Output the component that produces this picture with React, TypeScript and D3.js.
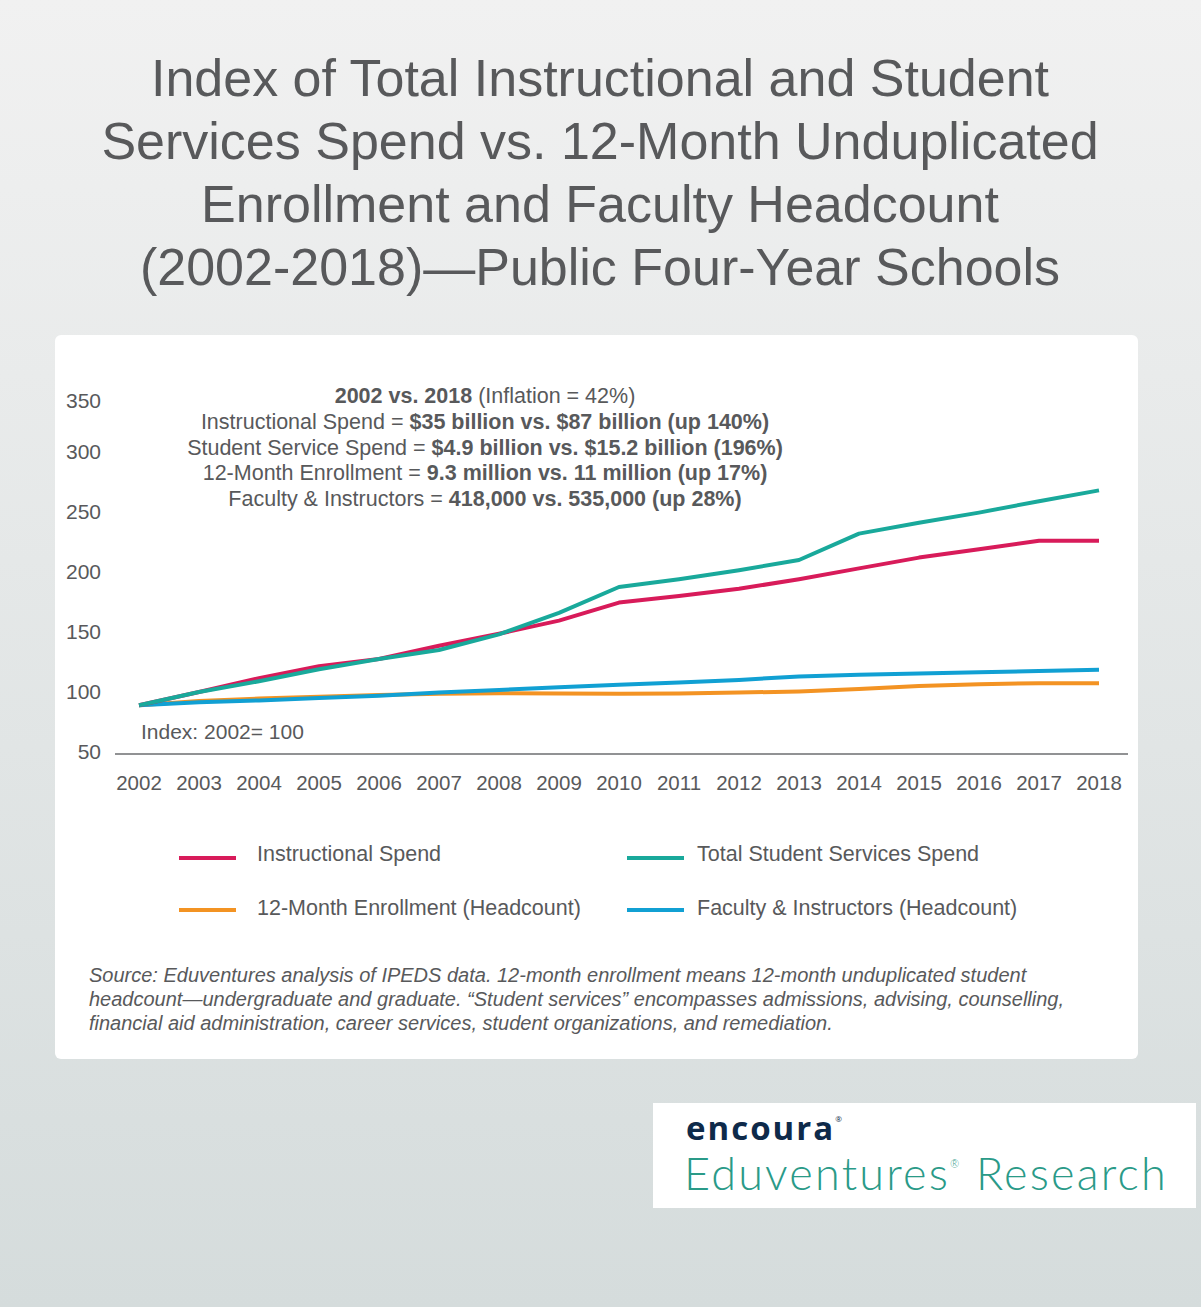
import { useEffect, useRef } from 'react';
import * as d3 from 'd3';

const W = 1201;
const H = 1307;

const YEARS = [2002, 2003, 2004, 2005, 2006, 2007, 2008, 2009, 2010, 2011, 2012, 2013, 2014, 2015, 2016, 2017, 2018];

// Index values (as drawn, 2002 sits just under 100).
const INSTRUCTIONAL = [89, 100, 111.5, 121.5, 127.5, 138.5, 148.5, 159.5, 174.5, 180, 186, 194, 203, 212, 219, 226, 226];
const STUDENT_SERVICES = [89, 100, 109, 119, 127.5, 135, 148, 166, 187.5, 194, 201.5, 210, 232, 241, 249.5, 259, 268];
const ENROLLMENT = [89, 92.5, 94.5, 96, 97.5, 98.5, 99, 98.8, 98.5, 98.8, 99.5, 100.5, 102.5, 105, 106.5, 107.3, 107.3];
const FACULTY = [89, 91.5, 93, 95, 96.8, 99.5, 101.7, 104, 106, 108, 110, 113, 114.4, 115.5, 116.4, 117.5, 118.6];

const Y_TICKS = [50, 100, 150, 200, 250, 300, 350];

const TITLE_LINES = [
  'Index of Total Instructional and Student',
  'Services Spend vs. 12-Month Unduplicated',
  'Enrollment and Faculty Headcount',
  '(2002-2018)\u2014Public Four-Year Schools',
];

// [normal part, bold part, trailing normal part]
const NOTE_LINES: [string, string, string][] = [
  ['', '2002 vs. 2018', ' (Inflation = 42%)'],
  ['Instructional Spend = ', '$35 billion vs. $87 billion (up 140%)', ''],
  ['Student Service Spend = ', '$4.9 billion vs. $15.2 billion (196%)', ''],
  ['12-Month Enrollment = ', '9.3 million vs. 11 million (up 17%)', ''],
  ['Faculty & Instructors = ', '418,000 vs. 535,000 (up 28%)', ''],
];

const SOURCE_LINES = [
  'Source: Eduventures analysis of IPEDS data. 12-month enrollment means 12-month unduplicated student',
  'headcount\u2014undergraduate and graduate. \u201cStudent services\u201d encompasses admissions, advising, counselling,',
  'financial aid administration, career services, student organizations, and remediation.',
];

const SERIES = [
  { name: 'Instructional Spend', values: INSTRUCTIONAL, color: '#d81b5a' },
  { name: 'Total Student Services Spend', values: STUDENT_SERVICES, color: '#19a99b' },
  { name: '12-Month Enrollment (Headcount)', values: ENROLLMENT, color: '#f39323' },
  { name: 'Faculty & Instructors (Headcount)', values: FACULTY, color: '#11a0d3' },
];

const FONT = '"Liberation Sans", Arial, sans-serif';
const TEXT = '#58595b';

export default function App() {
  const svgRef = useRef<SVGSVGElement>(null);

  useEffect(() => {
    if (!svgRef.current) return;
    const svg = d3.select(svgRef.current);
    svg.selectAll('*').remove();

    // ── Background ────────────────────────────────────────────────────
    const defs = svg.append('defs');
    const grad = defs.append('linearGradient')
      .attr('id', 'bg').attr('x1', 0).attr('y1', 0).attr('x2', 0).attr('y2', 1);
    grad.append('stop').attr('offset', '0%').attr('stop-color', '#f1f1f1');
    grad.append('stop').attr('offset', '100%').attr('stop-color', '#d5dcdc');
    svg.append('rect').attr('width', W).attr('height', H).attr('fill', 'url(#bg)');

    // ── Title ─────────────────────────────────────────────────────────
    svg.append('g')
      .selectAll('text')
      .data(TITLE_LINES)
      .join('text')
      .attr('x', 600)
      .attr('y', (_, i) => 96 + i * 63)
      .attr('text-anchor', 'middle')
      .attr('font-family', FONT)
      .attr('font-size', '52px')
      .attr('fill', TEXT)
      .text((d) => d);

    // ── Card ──────────────────────────────────────────────────────────
    svg.append('rect')
      .attr('x', 55).attr('y', 335).attr('width', 1083).attr('height', 724)
      .attr('rx', 6).attr('fill', '#ffffff');

    // ── Scales ────────────────────────────────────────────────────────
    const x = d3.scaleLinear().domain([2002, 2018]).range([139, 1099]);
    const y = d3.scaleLinear().domain([50, 350]).range([752, 392]);

    // ── Axes ──────────────────────────────────────────────────────────
    svg.append('line')
      .attr('x1', 115).attr('x2', 1128)
      .attr('y1', y(50) + 2).attr('y2', y(50) + 2)
      .attr('stroke', '#6d6e71').attr('stroke-width', 1.5);

    svg.append('g')
      .selectAll('text')
      .data(Y_TICKS)
      .join('text')
      .attr('x', 101)
      .attr('y', (d) => (d === 350 ? y(d) + 16 : y(d) + 7))
      .attr('text-anchor', 'end')
      .attr('font-family', FONT)
      .attr('font-size', '21px')
      .attr('fill', TEXT)
      .text((d) => String(d));

    svg.append('g')
      .selectAll('text')
      .data(YEARS)
      .join('text')
      .attr('x', (d) => x(d))
      .attr('y', 790)
      .attr('text-anchor', 'middle')
      .attr('font-family', FONT)
      .attr('font-size', '20.5px')
      .attr('fill', TEXT)
      .text((d) => String(d));

    // ── Lines ─────────────────────────────────────────────────────────
    const line = d3.line<number>()
      .x((_, i) => x(YEARS[i]))
      .y((d) => y(d));

    // draw enrollment/faculty first, spend lines on top
    [SERIES[2], SERIES[3], SERIES[0], SERIES[1]].forEach((s) => {
      svg.append('path')
        .datum(s.values)
        .attr('fill', 'none')
        .attr('stroke', s.color)
        .attr('stroke-width', 4)
        .attr('stroke-linejoin', 'round')
        .attr('d', line);
    });

    svg.append('text')
      .attr('x', 141).attr('y', 739)
      .attr('font-family', FONT).attr('font-size', '21px').attr('fill', TEXT)
      .text('Index: 2002= 100');

    // ── Annotation ────────────────────────────────────────────────────
    const note = svg.append('g');
    NOTE_LINES.forEach(([a, b, c], i) => {
      const t = note.append('text')
        .attr('x', 485)
        .attr('y', 403 + i * 25.8)
        .attr('text-anchor', 'middle')
        .attr('font-family', FONT)
        .attr('font-size', '21.5px')
        .attr('fill', TEXT);
      if (a) t.append('tspan').text(a);
      t.append('tspan').attr('font-weight', 'bold').text(b);
      if (c) t.append('tspan').text(c);
    });

    // ── Legend ────────────────────────────────────────────────────────
    const legendPos = [
      { lx: 179, tx: 257, ly: 858 },
      { lx: 627, tx: 697, ly: 858 },
      { lx: 179, tx: 257, ly: 910 },
      { lx: 627, tx: 697, ly: 910 },
    ];
    SERIES.forEach((s, i) => {
      const p = legendPos[i];
      svg.append('line')
        .attr('x1', p.lx).attr('x2', p.lx + 57)
        .attr('y1', p.ly).attr('y2', p.ly)
        .attr('stroke', s.color).attr('stroke-width', 4);
      svg.append('text')
        .attr('x', p.tx).attr('y', p.ly + (i < 2 ? 3 : 5))
        .attr('font-family', FONT).attr('font-size', '21.5px').attr('fill', TEXT)
        .text(s.name);
    });

    // ── Source ────────────────────────────────────────────────────────
    svg.append('g')
      .selectAll('text')
      .data(SOURCE_LINES)
      .join('text')
      .attr('x', 89)
      .attr('y', (_, i) => 982 + i * 24)
      .attr('font-family', FONT)
      .attr('font-size', '20px')
      .attr('font-style', 'italic')
      .attr('fill', TEXT)
      .text((d) => d);

    // ── Logo box ──────────────────────────────────────────────────────
    svg.append('rect')
      .attr('x', 653).attr('y', 1103).attr('width', 543).attr('height', 105)
      .attr('fill', '#ffffff');
    const enc = svg.append('text')
      .attr('x', 686).attr('y', 1140)
      .attr('font-family', '"Open Sans", Lato, sans-serif')
      .attr('font-weight', 'bold')
      .attr('font-size', '33px')
      .attr('letter-spacing', '2px')
      .attr('fill', '#0e2a4a')
      .text('encoura');
    enc.append('tspan').attr('font-size', '8px').attr('dy', -18).attr('font-weight', 'normal').text('\u00ae');
    const edu = svg.append('text')
      .attr('x', 684).attr('y', 1190)
      .attr('font-family', 'Lato, "Open Sans", sans-serif')
      .attr('font-weight', 300)
      .attr('font-size', '45px')
      .attr('letter-spacing', '2.2px')
      .attr('fill', '#2a9a88')
      .text('Eduventures');
    edu.append('tspan').attr('font-size', '11px').attr('dy', -22).text('\u00ae');
    edu.append('tspan').attr('dy', 22).text(' Research');
  }, []);

  return (
    <svg
      ref={svgRef}
      width={W}
      height={H}
      style={{ position: 'absolute', left: 0, top: 0, display: 'block' }}
    />
  );
}
